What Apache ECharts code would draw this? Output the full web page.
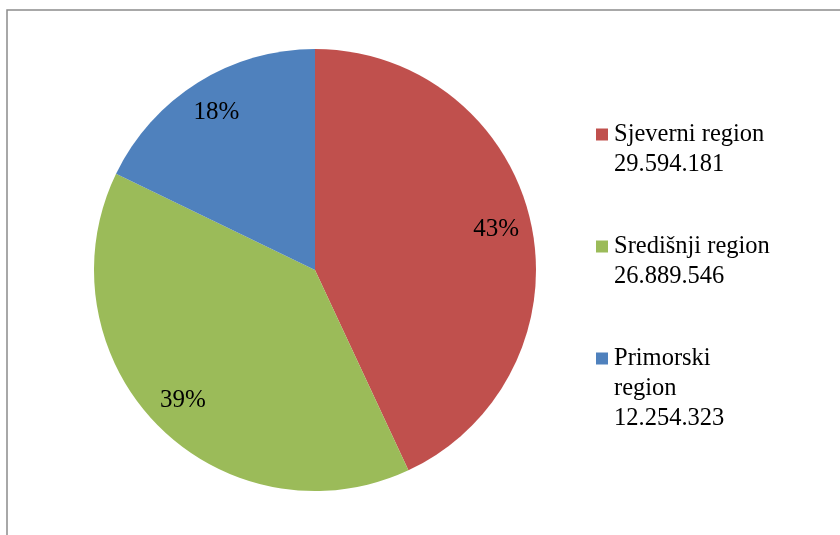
<!DOCTYPE html>
<html>
<head>
<meta charset="utf-8">
<script src="https://cdn.jsdelivr.net/npm/echarts@6/dist/echarts.min.js"></script>
<style>
  html, body { margin: 0; padding: 0; background: #fff; }
  #chart { width: 840px; height: 535px; }
</style>
</head>
<body>
<div id="chart"></div>
<script>
var regionNames = ["Sjeverni region", "Središnji region", "Primorski region"];
var legendNames = ["Sjeverni region", "Središnji region", "Primorski\nregion"];
var regionValues = [29594181, 26889546, 12254323];
var regionColors = ["#C0504D", "#9BBB59", "#4F81BD"];

var chartDom = document.getElementById("chart");
var chart = echarts.init(chartDom);
var option;

function formatNumber(v) {
  return String(v).replace(/\B(?=(\d{3})+(?!\d))/g, ".");
}

var pieData = [];
var labelData = [];
var richStyles = {
  t: { fontFamily: "Liberation Serif", fontSize: 24.5, lineHeight: 30, color: "#000", padding: [0, 0, 0, 6] },
  i: { fontFamily: "Liberation Serif", fontSize: 24.5, lineHeight: 30, color: "#000", padding: [0, 0, 0, 18] },
};
for (var i = 0; i < regionNames.length; i++) {
  pieData.push({
    name: regionNames[i],
    value: regionValues[i],
    itemStyle: { color: regionColors[i] },
  });
  labelData.push({ name: regionNames[i], value: regionValues[i] });
  richStyles["b" + i] = { width: 12, height: 12, backgroundColor: regionColors[i], lineHeight: 30 };
}

option = {
  animation: false,
  backgroundColor: "#fff",
  graphic: [
    {
      type: "rect",
      shape: { x: 7, y: 10, width: 900, height: 600 },
      style: { fill: "none", stroke: "#8c8c8c", lineWidth: 1.5 },
      silent: true,
    },
  ],
  legend: {
    orient: "vertical",
    left: 591,
    top: 122,
    padding: 0,
    itemGap: 57,
    itemWidth: 0,
    itemHeight: 0,
    selectedMode: false,
    data: regionNames,
    formatter: function (name) {
      var idx = regionNames.indexOf(name);
      var lines = legendNames[idx].split("\n");
      lines.push(formatNumber(regionValues[idx]));
      var out = "{b" + idx + "|}{t|" + lines[0] + "}";
      for (var k = 1; k < lines.length; k++) {
        out += "\n{i|" + lines[k] + "}";
      }
      return out;
    },
    textStyle: { rich: richStyles },
  },
  series: [
    {
      type: "pie",
      center: [315, 270],
      radius: 221,
      startAngle: 90,
      clockwise: true,
      silent: true,
      label: { show: false },
      labelLine: { show: false },
      data: pieData,
    },
    {
      type: "pie",
      center: [315, 270],
      radius: [144, 221],
      startAngle: 90,
      clockwise: true,
      silent: true,
      itemStyle: { color: "rgba(0,0,0,0)" },
      label: {
        show: true,
        position: "inside",
        fontFamily: "Liberation Serif",
        fontSize: 25,
        color: "#000",
        formatter: function (p) {
          return Math.round(p.percent) + "%";
        },
      },
      labelLine: { show: false },
      data: labelData,
    },
  ],
};

chart.setOption(option);
</script>
</body>
</html>
